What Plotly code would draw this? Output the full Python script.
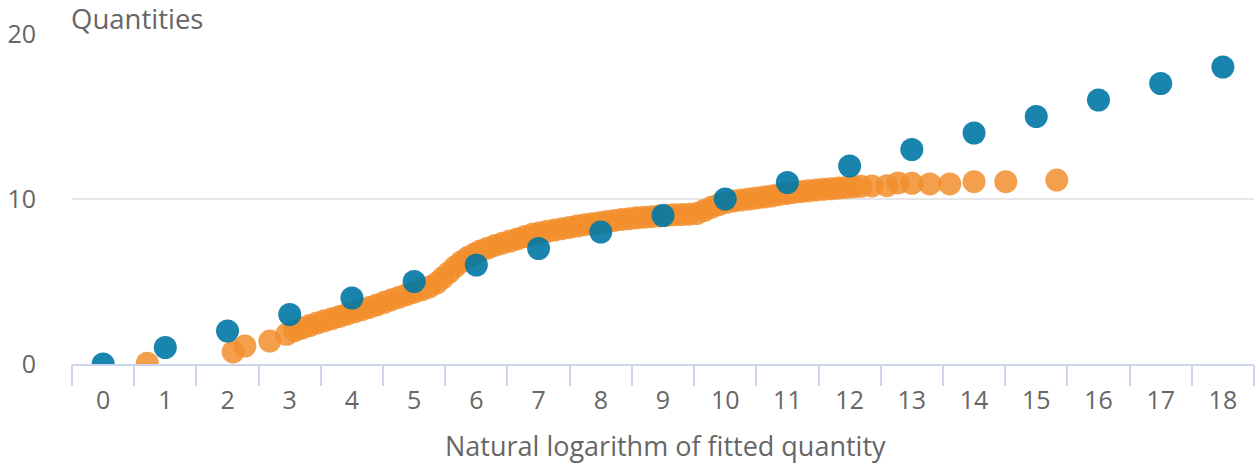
import plotly.graph_objects as go

# Blue series: categories 0..18, value equals category
blue_x = list(range(19))
blue_y = [0, 1, 2, 3, 4, 5, 6, 7, 8, 9, 10, 11, 12, 13, 14, 15, 16, 17, 18]

# Orange series
orange_x = [0.71, 2.09, 2.28, 2.68, 2.95, 3.08, 3.20, 3.32, 3.44, 3.56, 3.68, 3.80, 3.92,
            4.04, 4.16, 4.28, 4.40, 4.52, 4.64, 4.76, 4.88, 5.00, 5.12, 5.24, 5.36, 5.46,
            5.56, 5.66, 5.76, 5.86, 5.96, 6.06, 6.18, 6.30, 6.42, 6.54, 6.66, 6.78, 6.90,
            7.02, 7.14, 7.26, 7.38, 7.50, 7.62, 7.74, 7.86, 7.98, 8.10, 8.22, 8.34, 8.46,
            8.58, 8.70, 8.82, 8.94, 9.06, 9.18, 9.30, 9.42, 9.54, 9.66, 9.78, 9.90, 10.02,
            10.14, 10.26, 10.38, 10.50, 10.62, 10.74, 10.86, 10.98, 11.10, 11.22, 11.34,
            11.46, 11.58, 11.70, 11.82, 11.94, 12.06, 12.18, 12.36, 12.60, 12.78, 13.00,
            13.29, 13.61, 14.00, 14.51, 15.33]
orange_y = [0.05, 0.73, 1.09, 1.39, 1.80, 2.02, 2.18, 2.33, 2.48, 2.62, 2.75, 2.88, 3.02,
            3.16, 3.30, 3.43, 3.58, 3.74, 3.90, 4.05, 4.20, 4.35, 4.50, 4.66, 4.90, 5.22,
            5.55, 5.90, 6.20, 6.45, 6.65, 6.85, 7.02, 7.18, 7.32, 7.45, 7.58, 7.72, 7.86,
            7.95, 8.04, 8.12, 8.20, 8.28, 8.36, 8.44, 8.50, 8.56, 8.63, 8.70, 8.76, 8.81,
            8.86, 8.90, 8.93, 8.97, 9.01, 9.04, 9.06, 9.08, 9.12, 9.30, 9.50, 9.66, 9.80,
            9.88, 9.94, 10.00, 10.06, 10.12, 10.18, 10.26, 10.33, 10.40, 10.45, 10.50,
            10.55, 10.59, 10.62, 10.66, 10.70, 10.74, 10.77, 10.79, 10.81, 10.97, 10.95,
            10.91, 10.91, 11.05, 11.05, 11.15]

x_labels = [str(i) for i in range(19)]
y_ticks = [0, 10, 20]
boundaries = [i - 0.5 for i in range(20)]

FONT = "Open Sans"
GREY = "#666666"
AXIS = "#ccd6eb"

fig = go.Figure()
fig.add_trace(go.Scatter(
    x=orange_x, y=orange_y, mode="markers",
    marker=dict(size=23, color="rgba(242,142,43,0.85)", line=dict(width=0)),
    showlegend=False, hoverinfo="skip"))
fig.add_trace(go.Scatter(
    x=blue_x, y=blue_y, mode="markers",
    marker=dict(size=23, color="rgba(0,120,165,0.9)", line=dict(width=0)),
    showlegend=False, hoverinfo="skip"))
# invisible trace to activate the boundary-tick axis
fig.add_trace(go.Scatter(x=[None], y=[None], xaxis="x2", showlegend=False, hoverinfo="skip"))

fig.update_layout(
    width=1257, height=465,
    margin=dict(l=72, r=3, t=34, b=101),
    plot_bgcolor="white", paper_bgcolor="white",
    font=dict(family=FONT, color=GREY),
    xaxis=dict(
        range=[-0.5, 18.5], tickvals=blue_x, ticktext=x_labels,
        showgrid=False, zeroline=False,
        showline=True, linecolor=AXIS, linewidth=2,
        ticks="outside", ticklen=13, tickcolor="rgba(0,0,0,0)",
        tickfont=dict(family=FONT, size=25, color=GREY),
    ),
    xaxis2=dict(
        range=[-0.5, 18.5], overlaying="x", anchor="y", side="bottom",
        tickvals=boundaries, showticklabels=False, showgrid=False, zeroline=False,
        ticks="outside", ticklen=21, tickwidth=2, tickcolor=AXIS, showline=False,
    ),
    yaxis=dict(
        range=[0, 20], tickvals=y_ticks, showgrid=True, gridcolor="#e6e6e6", gridwidth=2,
        zeroline=False, showline=False,
        ticks="outside", ticklen=30, tickcolor="rgba(0,0,0,0)",
        tickfont=dict(family=FONT, size=25, color=GREY),
    ),
    annotations=[
        dict(text="Quantities", xref="paper", yref="paper", x=0, y=1,
             xanchor="left", yanchor="middle", yshift=16, xshift=-3, showarrow=False,
             font=dict(family=FONT, size=27.5, color=GREY)),
        dict(text="Natural logarithm of fitted quantity", xref="paper", yref="paper",
             x=0.5, y=0, xanchor="center", yanchor="middle", yshift=-81, xshift=2,
             showarrow=False, font=dict(family=FONT, size=27, color=GREY)),
    ],
)

fig.write_html("out.html")
